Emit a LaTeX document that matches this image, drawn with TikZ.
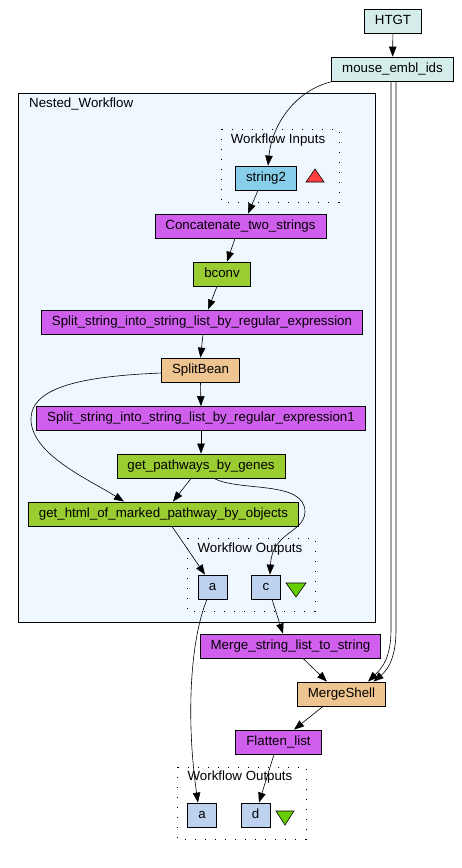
\documentclass[tikz,border=0pt]{standalone}
\usepackage{fontspec}
\setmainfont{Liberation Sans}
\usetikzlibrary{arrows.meta,positioning,calc}

\definecolor{constcol}{HTML}{D4EDEA}
\definecolor{inportcol}{HTML}{87CEEB}
\definecolor{outportcol}{HTML}{BCD2EE}
\definecolor{localcol}{HTML}{D15FEE}
\definecolor{beancol}{HTML}{EEC591}
\definecolor{servicecol}{HTML}{9ACD32}
\definecolor{nestedcol}{HTML}{EFF7FF}
\definecolor{upcol}{HTML}{FF4040}
\definecolor{downcol}{HTML}{66CD00}

\begin{document}
\begin{tikzpicture}[x=1pt,y=-1pt,
  box/.style={draw, line width=0.8pt, minimum height=24pt, inner xsep=10.5pt, inner ysep=0pt,
    text height=9.6pt, text depth=2.7pt, font=\fontsize{13.3}{15}\selectfont},
  const/.style={box, fill=constcol},
  inport/.style={box, fill=inportcol},
  outport/.style={box, fill=outportcol, minimum width=29pt},
  local/.style={box, fill=localcol},
  bean/.style={box, fill=beancol},
  service/.style={box, fill=servicecol},
  cluster/.style={draw, line width=0.6pt, dash pattern=on 1.3pt off 8.7pt},
  lbl/.style={font=\fontsize{13.3}{15}\selectfont, inner sep=0pt},
  edge/.style={-{Triangle[length=10pt,width=7.5pt]}, line width=0.6pt}]
\useasboundingbox (0,0) rectangle (461,868);

% Nested workflow and port groups
\draw[line width=0.8pt, fill=nestedcol] (18,93) rectangle (375,622);
\node[lbl, anchor=west] (nestlbl) at (29,104) {Nested\_Workflow};
\draw[cluster] (221,129) rectangle (339,202);
\node[lbl] (inlbl) at (278,140) {Workflow Inputs};
\draw[cluster] (187,538) rectangle (315,611);
\node[lbl] (outlbl) at (250,549) {Workflow Outputs};
\draw[cluster] (177,767) rectangle (306,839);
\node[lbl] (wfoutlbl) at (240,777) {Workflow Outputs};

% Top level inputs
\node[const] (htgt) at (393,21) {HTGT};
\node[const] (mouse) at (392.5,69) {mouse\_embl\_ids};

% Nested workflow processors
\node[inport] (string2) at (266,178) {string2};
\draw[line width=0.6pt, fill=upcol] (306,182) -- (324,182) -- (315,169) -- cycle;
\node[local] (concat) at (240.5,226) {Concatenate\_two\_strings};
\node[service] (bconv) at (222,274) {bconv};
\node[local] (split) at (202,322) {Split\_string\_into\_string\_list\_by\_regular\_expression};
\node[bean] (splitbean) at (200.5,370) {SplitBean};
\node[local] (splitone) at (201,418.5) {Split\_string\_into\_string\_list\_by\_regular\_expression1};
\node[service] (pathways) at (201,466) {get\_pathways\_by\_genes};
\node[service] (html) at (163.5,514) {get\_html\_of\_marked\_pathway\_by\_objects};
\node[outport] (na) at (212.5,587) {a};
\node[outport] (nc) at (266,587) {c};
\draw[line width=0.6pt, fill=downcol] (286,583) -- (306,583) -- (296,597) -- cycle;

% Top level processors and outputs
\node[local] (mergelist) at (290.5,646) {Merge\_string\_list\_to\_string};
\node[bean] (mergeshell) at (341.5,694) {MergeShell};
\node[local] (flatten) at (278.5,742) {Flatten\_list};
\node[outport] (outa) at (202,815) {a};
\node[outport] (outd) at (255.5,815) {d};
\draw[line width=0.6pt, fill=downcol] (276,811) -- (294,811) -- (285,825) -- cycle;

% Links
\draw[edge] (htgt) -- (mouse);
\draw[edge] ($(mouse.south west)+(1.5,0)$) .. controls (295,90) and (272,125) .. ($(string2.north)+(2,0)$);
\draw[edge] ($(mouse.south)+(-1.5,0)$) -- (391,630) .. controls (391,660) and (380,670) .. ($(mergeshell.north)+(26.5,0)$);
\draw[edge] ($(mouse.south)+(3.5,0)$) -- (396,630) .. controls (396,662) and (385,672) .. ($(mergeshell.north)+(32,0)$);
\draw[edge] ($(string2.south)+(-8,0)$) -- ($(concat.north)+(7.5,0)$);
\draw[edge] ($(concat.south)+(-5.5,0)$) -- ($(bconv.north)+(5,0)$);
\draw[edge] ($(bconv.south)+(-5,0)$) -- ($(split.north)+(6,0)$);
\draw[edge] ($(split.south)+(1,0)$) -- (splitbean.north);
\draw[edge] (splitbean.south) -- (splitone.north);
\draw[edge] ($(splitbean.west)+(0,3)$) .. controls (90,376) and (30,385) .. (31,420)
  .. controls (32,455) and (90,480) .. ($(html.north)+(-39.5,0)$);
\draw[edge] (splitone.south) -- (pathways.north);
\draw[edge] ($(pathways.south)+(-10,0)$) -- ($(html.north)+(9.5,0)$);
\draw[edge] ($(pathways.south)+(13,0)$) .. controls (240,492) and (305,480) .. (305,512)
  .. controls (304,533) and (272,532) .. ($(nc.north)+(4,0)$);
\draw[edge] ($(html.south)+(8.5,0)$) -- ($(na.north)+(-7.5,0)$);
\draw[edge] ($(nc.south)+(6,0)$) .. controls (276,612) .. ($(mergelist.north)+(-7.5,0)$);
\draw[edge] ($(na.south)+(-5.5,0)$) .. controls (190,640) and (186,720) .. ($(outa.north)+(-4,0)$);
\draw[edge] ($(mergelist.south)+(12.5,0)$) -- ($(mergeshell.north)+(-14.5,0)$);
\draw[edge] ($(mergeshell.south)+(-18.5,0)$) -- ($(flatten.north)+(15.5,0)$);
\draw[edge] ($(flatten.south)+(-4.5,0)$) -- ($(outd.north)+(3.5,0)$);
\end{tikzpicture}
\end{document}
